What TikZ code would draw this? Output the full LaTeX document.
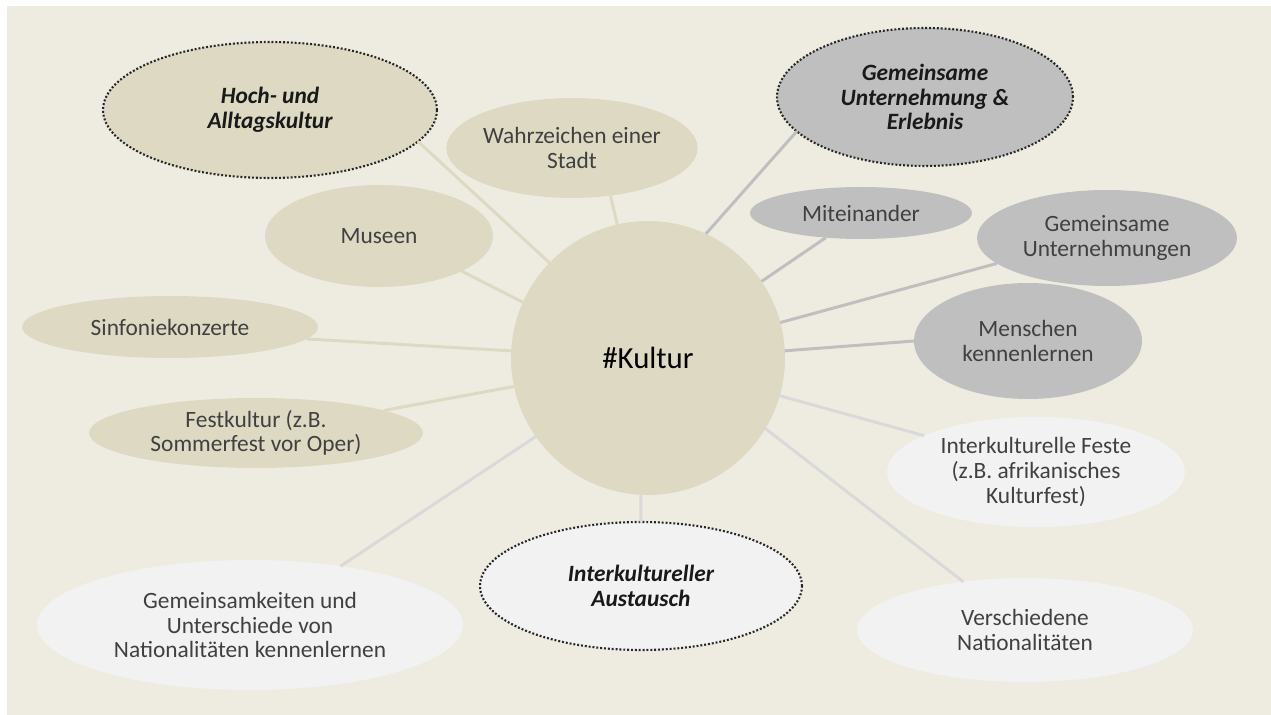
\documentclass[tikz,border=0pt]{standalone}
\usepackage{fontspec}
\setmainfont{Carlito}
\usetikzlibrary{shapes.geometric}
\definecolor{paper}{HTML}{EEECE1}
\definecolor{tanfill}{HTML}{DDD9C3}
\definecolor{greyfill}{HTML}{BFBFBF}
\definecolor{palefill}{HTML}{F2F2F2}
\definecolor{paleline}{HTML}{D9D9D9}
\begin{document}
\begin{tikzpicture}[x=0.02cm, y=-0.02cm,
  bubble/.style={ellipse, inner sep=0pt, outer sep=0pt, align=center,
                 text=black!75, font=\fontsize{13.3}{14}\selectfont},
  tanb/.style={bubble, fill=tanfill},
  greyb/.style={bubble, fill=greyfill},
  paleb/.style={bubble, fill=palefill},
  key/.style={draw=black!85, line width=1.2pt, dash pattern=on 1.1pt off 1.1pt,
              text=black!90, font=\fontsize{13.3}{14}\selectfont\bfseries\itshape},
  hub/.style={circle, fill=tanfill, inner sep=0pt, outer sep=0pt,
              minimum size=5.48cm, font=\fontsize{17.5}{20}\selectfont},
  spoke/.style={line width=1.7pt},
]
% Page and panel
\useasboundingbox (0,0) rectangle (1271,715);
\fill[white] (0,0) rectangle (1271,715);
\fill[paper] (7,6) rectangle (1271,715);
% Centre
\node[hub] (hub) at (648,358) {\#Kultur};
% Hoch- und Alltagskultur (tan)
\node[tanb, key, minimum width=6.68cm, minimum height=2.72cm] (hoch) at (270,110) {Hoch- und\\Alltagskultur};
\node[tanb, minimum width=4.72cm, minimum height=2.0cm] (wahr) at (572,148) {Wahrzeichen einer\\Stadt};
\node[tanb, minimum width=4.56cm, minimum height=2.04cm] (museen) at (379,236) {Museen};
\node[tanb, minimum width=5.92cm, minimum height=1.24cm] (sinf) at (170,327) {Sinfoniekonzerte};
\node[tanb, minimum width=6.68cm, minimum height=1.4cm] (fest) at (256,433) {Festkultur (z.B.\\Sommerfest vor Oper)};
% Gemeinsame Unternehmung (grey)
\node[greyb, key, minimum width=5.92cm, minimum height=2.76cm] (erleb) at (925,97) {Gemeinsame\\Unternehmung \&\\Erlebnis};
\node[greyb, minimum width=4.44cm, minimum height=1.04cm] (mit) at (861,213) {Miteinander};
\node[greyb, minimum width=5.2cm, minimum height=1.92cm] (unter) at (1107,238) {Gemeinsame\\Unternehmungen};
\node[greyb, minimum width=4.56cm, minimum height=2.32cm] (mensch) at (1028,341) {Menschen\\kennenlernen};
% Interkultureller Austausch (pale)
\node[paleb, key, minimum width=6.44cm, minimum height=2.56cm] (aust) at (641,586) {Interkultureller\\Austausch};
\node[paleb, minimum width=5.96cm, minimum height=2.2cm] (feste) at (1036,472) {Interkulturelle Feste\\(z.B. afrikanisches\\Kulturfest)};
\node[paleb, minimum width=8.52cm, minimum height=2.6cm] (gemein) at (250,625) {Gemeinsamkeiten und\\Unterschiede von\\Nationalitäten kennenlernen};
\node[paleb, minimum width=6.72cm, minimum height=2.08cm] (nation) at (1025,630) {Verschiedene\\Nationalitäten};
% Spokes
\draw[spoke, tanfill] (hub.136) -- (hoch.-12);
\draw[spoke, tanfill] (hub.103) -- (wahr.-51);
\draw[spoke, tanfill] (hub.156) -- (museen.-23);
\draw[spoke, tanfill] (hub.177) -- (sinf.-5);
\draw[spoke, tanfill] (hub.192) -- (fest.10);
\draw[spoke, greyfill] (hub.65) -- (erleb.195);
\draw[spoke, greyfill] (hub.34) -- (mit.215);
\draw[spoke, greyfill] (hub.15) -- (unter.193);
\draw[spoke, greyfill] (hub.3) -- (mensch.180);
\draw[spoke, paleline] (hub.-16) -- (feste.162);
\draw[spoke, paleline] (hub.-31) -- (nation.142);
\draw[spoke, paleline] (hub.267) -- (aust.90);
\draw[spoke, paleline] (hub.215) -- (gemein.33);
\end{tikzpicture}
\end{document}
